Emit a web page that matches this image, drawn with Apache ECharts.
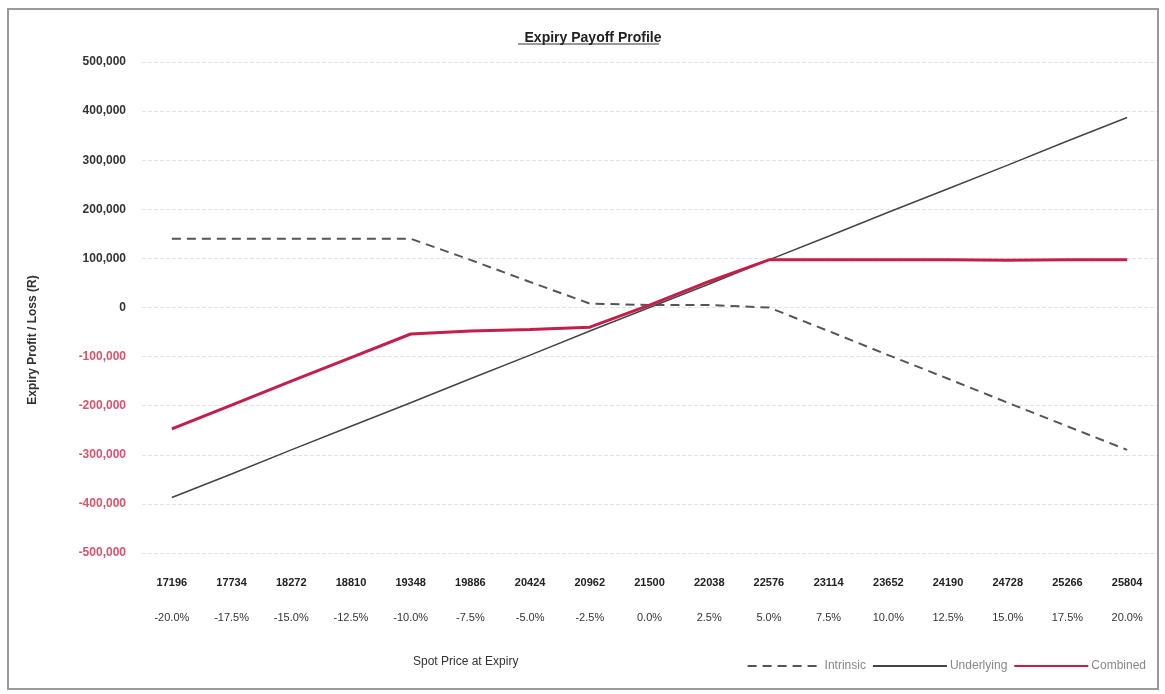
<!DOCTYPE html>
<html><head><meta charset="utf-8">
<script src="https://cdn.jsdelivr.net/npm/echarts@6/dist/echarts.min.js"></script>
<style>html,body{margin:0;padding:0;background:#fff}#c{width:1165px;height:694px}</style>
</head><body><div id="c"></div>
<script>
const spotPrices = ['17196','17734','18272','18810','19348','19886','20424','20962','21500','22038','22576','23114','23652','24190','24728','25266','25804'];
const pctMoves = ['-20.0%','-17.5%','-15.0%','-12.5%','-10.0%','-7.5%','-5.0%','-2.5%','0.0%','2.5%','5.0%','7.5%','10.0%','12.5%','15.0%','17.5%','20.0%'];
const intrinsic = [140000,140000,140000,140000,140000,97000,52000,8000,5000,5000,0,-48000,-97000,-145000,-194000,-242000,-290000];
const underlying = [-387000,-339000,-290000,-242000,-194000,-145000,-97000,-48000,0,48000,97000,145000,194000,242000,290000,339000,387000];
const combined = [-247000,-199000,-150000,-102000,-54000,-48000,-45000,-40000,5000,53000,97000,97000,97000,97000,96000,97000,97000];

const FONT = 'Liberation Sans';
const chart = echarts.init(document.getElementById('c'));
const catLabels = spotPrices.map((s,i)=>s+'|'+pctMoves[i]);
chart.setOption({
  animation:false,
  textStyle:{fontFamily:FONT},
  title:{text:'Expiry Payoff Profile',left:588,top:26,textAlign:'center',
    textStyle:{fontSize:14,fontWeight:'bold',color:'#222',fontFamily:FONT}},
  graphic:[
    {type:'rect',shape:{x:8,y:9,width:1150,height:680},style:{fill:'none',stroke:'#9a9a9a',lineWidth:2},silent:true},
    {type:'line',shape:{x1:518,y1:44,x2:659,y2:44},style:{stroke:'#333',lineWidth:1},silent:true},
    {type:'text',left:413,top:656,style:{text:'Spot Price at Expiry',fill:'#333',font:'12px '+FONT}},
    {type:'text',x:33,y:340,rotation:Math.PI/2,
      style:{text:'Expiry Profit / Loss (R)',fill:'#333',font:'bold 12px '+FONT,align:'center',verticalAlign:'middle'}}
  ],
  legend:{right:14,top:655,itemWidth:74,itemHeight:10,itemGap:6,
    itemStyle:{opacity:0},
    textStyle:{color:'#888',fontSize:12,fontFamily:FONT,padding:[0,0,0,-2]},
    data:['Intrinsic','Underlying','Combined']},
  grid:{left:142,right:8,top:62,height:491},
  xAxis:{type:'category',data:catLabels,boundaryGap:true,
    axisLine:{show:false},axisTick:{show:false},
    splitLine:{show:false},
    axisLabel:{interval:0,margin:12,
      formatter:v=>{const p=v.split('|');return '{a|'+p[0]+'}\n{b|'+p[1]+'}';},
      rich:{a:{fontSize:11,fontWeight:'bold',color:'#222',lineHeight:35,fontFamily:FONT},
            b:{fontSize:11,color:'#333',lineHeight:35,fontFamily:FONT}}}},
  yAxis:{type:'value',min:-500000,max:500000,interval:100000,
    axisLine:{show:false},axisTick:{show:false},
    splitLine:{lineStyle:{color:'#e2e2e2',type:'dashed',width:1}},
    axisLabel:{margin:16,fontSize:12,fontWeight:'bold',
      formatter:v=>v.toLocaleString('en-US'),
      color:v=>(Number(v)<0?'#d9536c':'#333')}},
  series:[
    {name:'Intrinsic',type:'line',data:intrinsic,symbol:'none',
      lineStyle:{color:'#555',width:2,type:[9,6]},itemStyle:{color:'#555'},z:2},
    {name:'Underlying',type:'line',data:underlying,symbol:'none',
      lineStyle:{color:'#444',width:1.5},itemStyle:{color:'#444'},z:3},
    {name:'Combined',type:'line',data:combined,symbol:'none',
      lineStyle:{color:'#c41e4a',width:3},itemStyle:{color:'#c41e4a'},z:4}
  ]
});
</script></body></html>
